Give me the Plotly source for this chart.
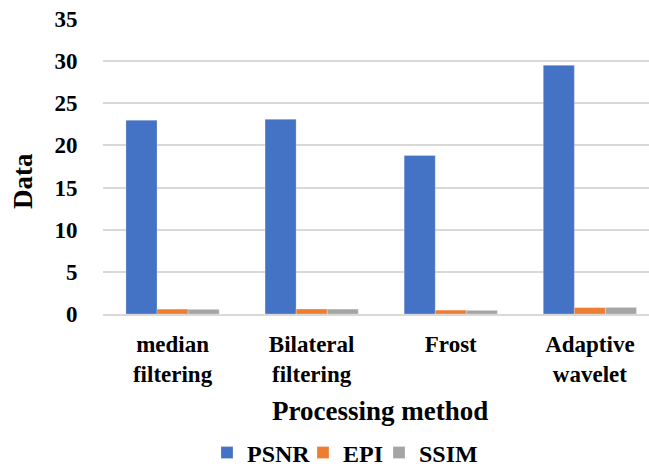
import plotly.graph_objects as go

# Denoising methods compared on three image-quality metrics
methods = ["median<br>filtering", "Bilateral<br>filtering", "Frost", "Adaptive<br>wavelet"]
psnr = [23.0, 23.1, 18.8, 29.5]
epi = [0.58, 0.59, 0.46, 0.76]
ssim = [0.55, 0.58, 0.43, 0.78]

y_ticks = [0, 5, 10, 15, 20, 25, 30, 35]

FONT = "Times New Roman, Liberation Serif, serif"
W, H = 649, 466
series = [
    ("PSNR", psnr, "#4472C4", "legend", 207),
    ("EPI", epi, "#ED7D31", "legend2", 303),
    ("SSIM", ssim, "#A5A5A5", "legend3", 379),
]

fig = go.Figure()
legends = {}
for name, vals, color, leg, left_px in series:
    fig.add_trace(go.Bar(
        name=name,
        x=methods,
        y=vals,
        legend=leg,
        marker=dict(color=color, line=dict(color="rgba(255,255,255,0.5)", width=0.5)),
    ))
    # one single-entry legend per series, placed along the bottom row
    legends[leg] = dict(
        orientation="h",
        xref="container", yref="container",
        x=left_px / W, xanchor="left",
        y=1 - 453 / H, yanchor="middle",
        font=dict(family=FONT, size=24, color="black", weight="bold"),
        itemwidth=30,
        bgcolor="rgba(0,0,0,0)",
    )

# plot area in pixels: x 103..649, y 19..314
fig.update_layout(
    width=W,
    height=H,
    margin=dict(l=103, r=0, t=19, b=152),
    paper_bgcolor="white",
    plot_bgcolor="white",
    barmode="group",
    bargap=0.33,
    bargroupgap=0,
    font=dict(family=FONT, color="black", size=20, weight="bold"),
    showlegend=True,
    annotations=[
        dict(text="Processing method", xref="paper", yref="paper",
             x=0.507, y=(314 - 411) / 295, xanchor="center", yanchor="middle",
             showarrow=False,
             font=dict(family=FONT, size=27, color="black", weight="bold")),
        dict(text="Data", xref="paper", yref="paper",
             x=(23 - 103) / 546, y=(314 - 181) / 295, xanchor="center", yanchor="middle",
             textangle=-90, showarrow=False,
             font=dict(family=FONT, size=27, color="black", weight="bold")),
    ],
    **legends,
)

fig.update_xaxes(
    range=[-0.5, 3.425],
    automargin=False,
    showgrid=False,
    showline=True,
    linecolor="#D9D9D9",
    linewidth=2,
    ticks="outside",
    ticklen=8,
    tickcolor="rgba(0,0,0,0)",
    tickfont=dict(family=FONT, size=23, color="black", weight="bold"),
)

fig.update_yaxes(
    range=[0, 35],
    automargin=False,
    tickvals=y_ticks,
    showgrid=True,
    gridcolor="#D9D9D9",
    gridwidth=1.5,
    zeroline=False,
    showline=False,
    ticks="outside",
    ticklen=20,
    tickcolor="rgba(0,0,0,0)",
    tickfont=dict(family=FONT, size=23, color="black", weight="bold"),
)

fig.write_html("out.html")
